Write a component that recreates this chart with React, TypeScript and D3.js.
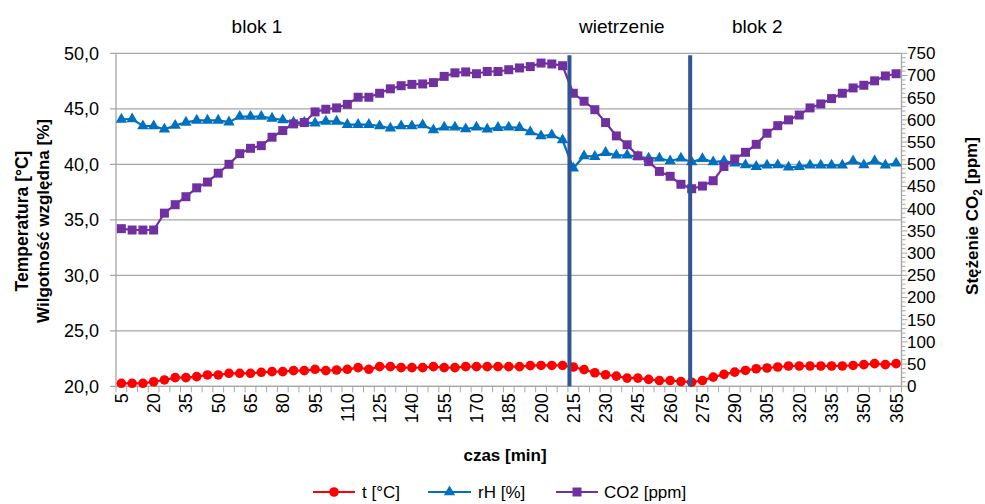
import React from "react";
import * as d3 from "d3";

const minutes = [5, 10, 15, 20, 25, 30, 35, 40, 45, 50, 55, 60, 65, 70, 75, 80, 85, 90, 95, 100, 105, 110, 115, 120, 125, 130, 135, 140, 145, 150, 155, 160, 165, 170, 175, 180, 185, 190, 195, 200, 205, 210, 215, 220, 225, 230, 235, 240, 245, 250, 255, 260, 265, 270, 275, 280, 285, 290, 295, 300, 305, 310, 315, 320, 325, 330, 335, 340, 345, 350, 355, 360, 365];

const tempC = [20.27, 20.27, 20.27, 20.41, 20.57, 20.78, 20.78, 20.87, 21.02, 21.02,
  21.17, 21.17, 21.17, 21.26, 21.32, 21.32, 21.41, 21.41, 21.53, 21.41,
  21.47, 21.53, 21.68, 21.53, 21.77, 21.77, 21.68, 21.68, 21.68, 21.77,
  21.68, 21.68, 21.77, 21.77, 21.77, 21.77, 21.77, 21.77, 21.86, 21.88,
  21.88, 21.88, 21.74, 21.5, 21.22, 21.04, 20.92, 20.74, 20.74, 20.62,
  20.52, 20.52, 20.43, 20.37, 20.52, 20.83, 21.07, 21.28, 21.43, 21.58,
  21.65, 21.74, 21.83, 21.83, 21.83, 21.83, 21.83, 21.83, 21.88, 21.95,
  22.04, 21.95, 22.04];

const rH = [44.05, 44.08, 43.45, 43.45, 43.15, 43.5, 43.78, 43.96, 43.96, 43.96,
  43.8, 44.3, 44.3, 44.3, 44.14, 43.99, 43.78, 43.78, 43.69, 43.87,
  43.87, 43.57, 43.57, 43.57, 43.45, 43.24, 43.45, 43.45, 43.54, 43.09,
  43.33, 43.33, 43.18, 43.33, 43.15, 43.3, 43.33, 43.3, 42.91, 42.55,
  42.64, 42.19, 39.64, 40.75, 40.69, 41.05, 40.81, 40.81, 40.69, 40.54,
  40.54, 40.3, 40.54, 40.2, 40.5, 40.2, 40.3, 40.09, 39.94, 39.79,
  39.91, 39.94, 39.73, 39.79, 39.91, 39.91, 39.91, 39.91, 40.3, 39.94,
  40.3, 39.91, 40.09];

const co2 = [355, 352, 352, 352, 390, 409, 427, 447, 460, 480,
  500, 524, 536, 542, 561, 576, 591, 594, 618, 624,
  627, 635, 651, 651, 660, 670, 677, 680, 681, 684,
  698, 706, 708, 704, 709, 709, 713, 717, 720, 728,
  726, 722, 660, 642, 623, 594, 564, 544, 519, 506,
  484, 473, 455, 445, 451, 463, 495, 512, 527, 545,
  570, 587, 600, 611, 627, 636, 648, 660, 672, 678,
  688, 699, 704];

const leftTicks = [20, 25, 30, 35, 40, 45, 50];
const rightTicks = [0, 50, 100, 150, 200, 250, 300, 350, 400, 450, 500, 550, 600, 650, 700, 750];
const xLabelMinutes = [5, 20, 35, 50, 65, 80, 95, 110, 125, 140, 155, 170, 185, 200, 215, 230, 245, 260, 275, 290, 305, 320, 335, 350, 365];
const eventLines = [213.2, 269.3];
const annotations = [
  { text: "blok 1", minute: 68 },
  { text: "wietrzenie", minute: 237.5 },
  { text: "blok 2", minute: 300.5 },
];

const RED = "#FF0000";
const BLUE = "#0070C0";
const PURPLE = "#7030A0";
const LINEBLUE = "#2F5597";
const GRID = "#A6A6A6";
const FONT = "'Liberation Sans', Arial, sans-serif";

const fmt = (v: number) => v.toFixed(1).replace(".", ",");

export default function App() {
  const W = 985, H = 504;
  const left = 116, right = 901.5, top = 53.3, bottom = 386.3;

  const x = d3.scalePoint<string>().domain(minutes.map(String)).range([left, right]).padding(0.5);
  const step = x.step();
  const xm = (m: number) => x(String(m)) as number;
  const xLin = d3.scaleLinear().domain([minutes[0], minutes[minutes.length - 1]]).range([xm(minutes[0]), xm(minutes[minutes.length - 1])]);
  const yL = d3.scaleLinear().domain([20, 50]).range([bottom, top]);
  const yR = d3.scaleLinear().domain([0, 750]).range([bottom, top]);

  const lineL = d3.line<number>().x((_, i) => xm(minutes[i])).y((d) => yL(d));
  const lineR = d3.line<number>().x((_, i) => xm(minutes[i])).y((d) => yR(d));

  const tri = d3.symbol().type(d3.symbolTriangle).size(56)() as string;
  const sq = d3.symbol().type(d3.symbolSquare).size(81)() as string;

  const boundaries = d3.range(minutes.length + 1).map((i) => left + i * step);
  const minorR = d3.range(0, 751, 10);

  const legendItems = [
    { label: "t [°C]", color: RED, x0: 313, x1: 355, tx: 362, kind: "c" },
    { label: "rH [%]", color: BLUE, x0: 428, x1: 471, tx: 478, kind: "t" },
    { label: "CO2 [ppm]", color: PURPLE, x0: 556, x1: 598, tx: 604, kind: "s" },
  ];
  const ly = 492;

  return (
    <svg width={W} height={H} style={{ position: "absolute", left: 0, top: 0, background: "#fff" }} fontFamily={FONT}>
      <rect width={W} height={H} fill="#fff" />
      {/* gridlines */}
      {leftTicks.map((t) => (
        <line key={"g" + t} x1={left - 6} x2={right} y1={yL(t)} y2={yL(t)} stroke={GRID} strokeWidth={1.3} />
      ))}
      {/* left axis */}
      <line x1={left} x2={left} y1={top} y2={bottom} stroke={GRID} strokeWidth={1.3} />
      {leftTicks.map((t) => (
        <text key={"lt" + t} x={99} y={yL(t)} dy="0.35em" textAnchor="end" fontSize={18} fill="#000">{fmt(t)}</text>
      ))}
      {/* right axis */}
      <line x1={right} x2={right} y1={top} y2={bottom} stroke={GRID} strokeWidth={1.3} />
      {minorR.map((t) => (
        <line key={"mr" + t} x1={right} x2={right + (t % 50 === 0 ? 6 : 4)} y1={yR(t)} y2={yR(t)} stroke={GRID} strokeWidth={1} />
      ))}
      {rightTicks.map((t) => (
        <text key={"rt" + t} x={907} y={yR(t)} dy="0.35em" textAnchor="start" fontSize={17} fill="#000">{t}</text>
      ))}
      {/* bottom axis */}
      <line x1={left} x2={right} y1={bottom} y2={bottom} stroke={GRID} strokeWidth={1.3} />
      {boundaries.map((bx, i) => (
        <line key={"bt" + i} x1={bx} x2={bx} y1={bottom} y2={bottom + 6} stroke={GRID} strokeWidth={1} />
      ))}
      {xLabelMinutes.map((m) => (
        <text key={"xl" + m} transform={`translate(${xm(m)},${bottom + 7}) rotate(-90)`} dy="0.36em" textAnchor="end" fontSize={18} fill="#000">{m}</text>
      ))}

      {/* series t */}
      <path d={lineL(tempC) as string} fill="none" stroke={RED} strokeWidth={2.2} />
      {tempC.map((v, i) => (
        <circle key={"c" + i} cx={xm(minutes[i])} cy={yL(v)} r={4.8} fill={RED} />
      ))}
      {/* series rH */}
      <path d={lineL(rH) as string} fill="none" stroke={BLUE} strokeWidth={2.2} />
      {rH.map((v, i) => (
        <path key={"t" + i} d={tri} transform={`translate(${xm(minutes[i])},${yL(v)})`} fill={BLUE} />
      ))}
      {/* series CO2 */}
      <path d={lineR(co2) as string} fill="none" stroke={PURPLE} strokeWidth={2.2} />
      {co2.map((v, i) => (
        <path key={"s" + i} d={sq} transform={`translate(${xm(minutes[i])},${yR(v)})`} fill={PURPLE} />
      ))}

      {/* event lines */}
      {eventLines.map((m) => (
        <line key={"ev" + m} x1={xLin(m)} x2={xLin(m)} y1={top + 2} y2={bottom} stroke={LINEBLUE} strokeWidth={4} />
      ))}

      {/* annotations */}
      {annotations.map((a) => (
        <text key={a.text} x={xLin(a.minute)} y={33} textAnchor="middle" fontSize={19} fill="#000">{a.text}</text>
      ))}

      {/* axis titles */}
      <text x={505} y={461} textAnchor="middle" fontSize={17} fontWeight="bold" fill="#000">czas [min]</text>
      <text transform="translate(22,221) rotate(-90)" dy="0.35em" textAnchor="middle" fontSize={17.5} fontWeight="bold" fill="#000">Temperatura [°C]</text>
      <text transform="translate(43,221) rotate(-90)" dy="0.35em" textAnchor="middle" fontSize={17} fontWeight="bold" fill="#000">Wilgotność względna [%]</text>
      <text transform="translate(972,216) rotate(-90)" dy="0.35em" textAnchor="middle" fontSize={17} fontWeight="bold" fill="#000">
        Stężenie CO<tspan fontSize={12} dy="0.3em">2</tspan><tspan dy="-0.25em"> [ppm]</tspan>
      </text>

      {/* legend */}
      {legendItems.map((it) => {
        const cx = (it.x0 + it.x1) / 2;
        return (
          <g key={it.label}>
            <line x1={it.x0} x2={it.x1} y1={ly} y2={ly} stroke={it.color} strokeWidth={2.2} />
            {it.kind === "c" && <circle cx={cx} cy={ly} r={4.8} fill={it.color} />}
            {it.kind === "t" && <path d={tri} transform={`translate(${cx},${ly})`} fill={it.color} />}
            {it.kind === "s" && <path d={sq} transform={`translate(${cx},${ly})`} fill={it.color} />}
            <text x={it.tx} y={ly} dy="0.35em" fontSize={17} fill="#000">{it.label}</text>
          </g>
        );
      })}
    </svg>
  );
}
